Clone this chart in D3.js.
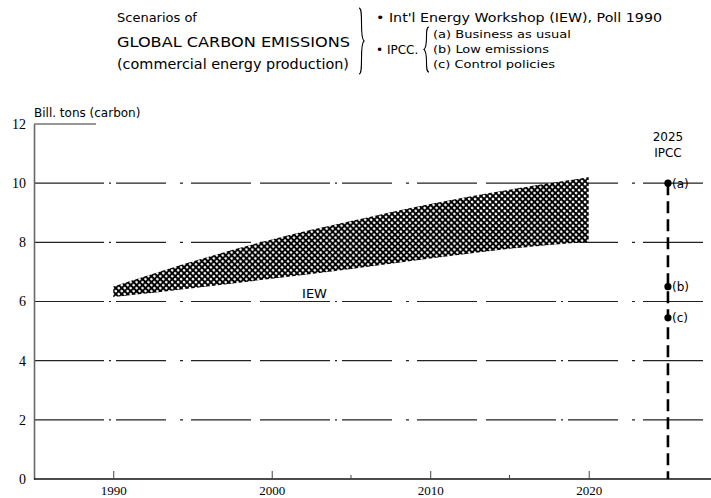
<!DOCTYPE html>
<html><head><meta charset="utf-8">
<script src="https://cdn.jsdelivr.net/npm/d3@7"></script>
<style>body{margin:0;background:#fff}svg{display:block}</style>
</head><body>
<svg id="c" width="711" height="498"></svg>
<script>
// ---- data ----
const iewYears = [1990, 1995, 2000, 2005, 2010, 2015, 2020];
const iewLow   = [6.15, 6.45, 6.77, 7.1, 7.45, 7.78, 8.02];
const iewHigh  = [6.5, 7.35, 8.1, 8.72, 9.3, 9.78, 10.2];
const ipccYear = 2025;
const ipccLabels = ["(a)", "(b)", "(c)"];
const ipccValues = [10, 6.5, 5.45];
const xTicks = [1990, 2000, 2010, 2020];
const xMinorTicks = [2005, 2015];
const yTicks = [0, 2, 4, 6, 8, 10, 12];
const gridValues = [2, 4, 6, 8, 10];

const svg = d3.select("#c");
const x = d3.scaleLinear().domain([1985, 2028]).range([34, 715.5]);
const y = d3.scaleLinear().domain([0, 12]).range([479, 124]);

// pattern (cross hatch)
const defs = svg.append("defs");
const P = 4.2;
const pat = defs.append("pattern").attr("id", "hatch").attr("patternUnits", "userSpaceOnUse")
  .attr("width", P).attr("height", P).attr("patternTransform", "rotate(45)");
pat.append("rect").attr("width", P).attr("height", P).attr("fill", "#000");
pat.append("circle").attr("cx", P / 2).attr("cy", P / 2).attr("r", 1.35).attr("fill", "#fff");

const serif = "'Liberation Serif', 'DejaVu Serif', serif";
const sans = "'DejaVu Sans', 'Liberation Sans', sans-serif";

// gridlines
svg.append("g").selectAll("line").data(gridValues).join("line")
  .attr("x1", x(1985)).attr("x2", 711)
  .attr("y1", d => y(d)).attr("y2", d => y(d))
  .attr("stroke", "#222").attr("stroke-width", 1.1)
  .attr("stroke-dasharray", "70,5,2,5,50,14,3,8,60,9");
// short top line at 12
svg.append("line").attr("x1", x(1985)).attr("x2", x(1985) + 62)
  .attr("y1", y(12)).attr("y2", y(12)).attr("stroke", "#333").attr("stroke-width", 1.2);

// IEW band
const area = d3.area().x((d, i) => x(iewYears[i])).y0((d, i) => y(iewLow[i])).y1((d, i) => y(iewHigh[i]))
  .curve(d3.curveCatmullRom);
svg.append("path").datum(iewYears).attr("d", area).attr("fill", "url(#hatch)");

svg.append("text").attr("x", x(2002.7)).attr("y", y(6.12)).attr("text-anchor", "middle")
  .attr("font-family", sans).attr("font-size", 13).text("IEW");

// axes
const yAxis = svg.append("g").attr("transform", `translate(${x(1985)},0)`)
  .call(d3.axisLeft(y).tickValues(yTicks).tickSize(0).tickPadding(8).tickFormat(d3.format("d")));
yAxis.select(".domain").attr("stroke", "#666").attr("stroke-width", 1.6);
yAxis.selectAll("text").attr("font-family", serif).attr("font-size", 14).attr("fill", "#000");

const xAxis = svg.append("g").attr("transform", `translate(0,${y(0)})`)
  .call(d3.axisTop(x).tickValues(xTicks).tickSize(8).tickFormat(d3.format("d")));
xAxis.select(".domain").attr("stroke", "#111").attr("stroke-width", 1.6).attr("d", `M${x(1985)},0H711`);
xAxis.selectAll(".tick line").attr("stroke", "#444");
xAxis.selectAll("text").attr("font-family", serif).attr("font-size", 13).attr("fill", "#000")
  .attr("y", 16).attr("dy", "0");
svg.append("g").selectAll("line").data(xMinorTicks).join("line")
  .attr("x1", d => x(d)).attr("x2", d => x(d)).attr("y1", y(0)).attr("y2", y(0) - 4)
  .attr("stroke", "#444");

svg.append("text").attr("x", 34).attr("y", 117).attr("font-family", sans).attr("font-size", 12)
  .text("Bill. tons (carbon)");

// IPCC 2025
svg.append("line").attr("x1", x(ipccYear)).attr("x2", x(ipccYear))
  .attr("y1", y(d3.max(ipccValues))).attr("y2", y(0))
  .attr("stroke", "#000").attr("stroke-width", 2.6).attr("stroke-dasharray", "12,6");
svg.append("g").selectAll("circle").data(ipccValues).join("circle")
  .attr("cx", x(ipccYear)).attr("cy", d => y(d)).attr("r", 3.6).attr("fill", "#000");
svg.append("g").selectAll("text").data(ipccValues).join("text")
  .attr("x", x(ipccYear) + 4).attr("y", d => y(d) + 4.5)
  .attr("font-family", sans).attr("font-size", 12).text((d, i) => ipccLabels[i]);
svg.append("text").attr("x", x(ipccYear)).attr("y", 141).attr("text-anchor", "middle")
  .attr("font-family", sans).attr("font-size", 12).text("2025");
svg.append("text").attr("x", x(ipccYear)).attr("y", 157).attr("text-anchor", "middle")
  .attr("font-family", sans).attr("font-size", 12).text("IPCC");

// title block
const title = svg.append("g").attr("font-family", sans).attr("fill", "#000");
title.append("text").attr("x", 117).attr("y", 22).attr("font-size", 13).text("Scenarios of");
title.append("text").attr("x", 117).attr("y", 47).attr("font-size", 14.5)
  .attr("textLength", 233).attr("lengthAdjust", "spacingAndGlyphs").text("GLOBAL CARBON EMISSIONS");
title.append("text").attr("x", 117).attr("y", 69).attr("font-size", 13.5)
  .attr("textLength", 232).attr("lengthAdjust", "spacingAndGlyphs").text("(commercial energy production)");

function brace(x0, yTop, yBot, dir) {
  const ym = (yTop + yBot) / 2, w = 5 * dir;
  return `M${x0},${yTop} C${x0 + w},${yTop} ${x0},${ym - 4} ${x0 + w},${ym}` +
         ` C${x0},${ym + 4} ${x0 + w},${yBot} ${x0},${yBot}`;
}
svg.append("path").attr("d", brace(359, 8, 74, 1)).attr("fill", "none").attr("stroke", "#000").attr("stroke-width", 1.1);
svg.append("path").attr("d", brace(429, 27, 72, -1)).attr("fill", "none").attr("stroke", "#000").attr("stroke-width", 1.1);

title.append("text").attr("x", 376).attr("y", 22).attr("font-size", 12)
  .attr("textLength", 286).attr("lengthAdjust", "spacingAndGlyphs").text("• Int'l Energy Workshop (IEW), Poll 1990");
title.append("text").attr("x", 376).attr("y", 54).attr("font-size", 12).text("• IPCC.");
title.append("text").attr("x", 433).attr("y", 38).attr("font-size", 11)
  .attr("textLength", 138).attr("lengthAdjust", "spacingAndGlyphs").text("(a) Business as usual");
title.append("text").attr("x", 433).attr("y", 53).attr("font-size", 11)
  .attr("textLength", 116).attr("lengthAdjust", "spacingAndGlyphs").text("(b) Low emissions");
title.append("text").attr("x", 433).attr("y", 68).attr("font-size", 11)
  .attr("textLength", 122).attr("lengthAdjust", "spacingAndGlyphs").text("(c) Control policies");
</script>
</body></html>
